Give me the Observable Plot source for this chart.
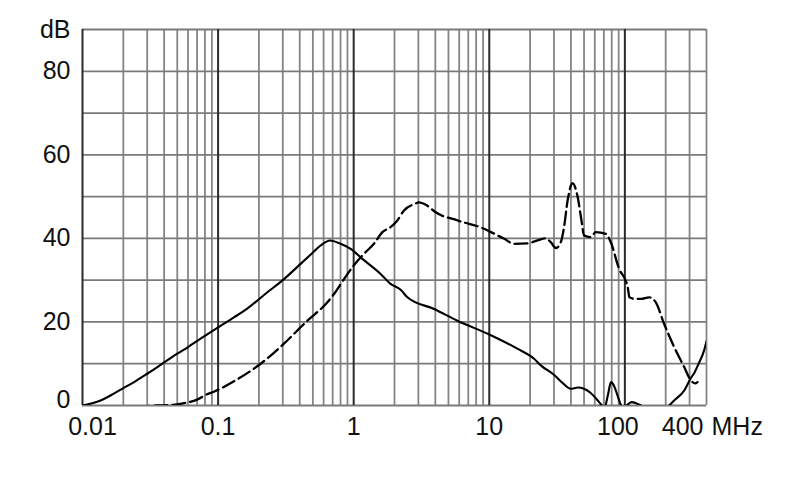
<!DOCTYPE html>
<html>
<head>
<meta charset="utf-8">
<script src="https://cdn.jsdelivr.net/npm/d3@7"></script>
<script src="https://cdn.jsdelivr.net/npm/@observablehq/plot@0.6"></script>
<style>
  html, body { margin: 0; padding: 0; background: #fff; }
  #chart { width: 790px; height: 499px; }
</style>
</head>
<body>
<div id="chart"></div>
<script>
// Solid curve: frequency (MHz) and level (dB)
const solidFreq = [0.01, 0.0136, 0.0161, 0.0196, 0.024, 0.030, 0.04, 0.05, 0.06, 0.0743, 0.1, 0.131, 0.164, 0.231, 0.3, 0.406, 0.5, 0.57, 0.67, 0.8, 0.95, 1.16, 1.58, 1.87, 2.22, 2.49, 3.92, 5.82, 10, 16.1, 21.4, 24, 30.1, 35, 39.9, 45, 50, 56, 62, 68, 71, 75, 79, 83, 88, 93, 97, 103, 112, 122, 135, 155, 180, 201, 231, 274, 307, 325, 350, 384, 400];
const solidDb   = [0, 1.2, 2.4, 4.0, 5.6, 7.6, 10.3, 12.4, 14.0, 16.0, 18.7, 21.1, 23.2, 27.1, 30.0, 33.9, 36.6, 38.3, 39.5, 38.7, 37.5, 35.1, 31.5, 29.1, 27.7, 25.9, 23.1, 20.3, 17.0, 13.6, 11.2, 9.6, 7.3, 5.3, 4.0, 4.3, 4.0, 3.0, 1.5, 0.0, -0.3, 2.5, 5.6, 4.8, 2.5, 0.3, -0.8, 0, 0.8, 0.5, -0.2, -1.5, -1.8, -0.7, 1.2, 3.6, 6.6, 7.8, 10.0, 13.2, 15.4];

// Dashed curve: frequency (MHz) and level (dB)
const dashFreq = [0.025, 0.0356, 0.0446, 0.055, 0.07, 0.083, 0.093, 0.131, 0.206, 0.258, 0.306, 0.455, 0.64, 0.716, 0.85, 1.0, 1.19, 1.41, 1.63, 1.87, 2.1, 2.35, 2.79, 3.03, 3.5, 4.0, 5.82, 9.17, 10.3, 12.9, 15.2, 19.1, 22.7, 26.1, 28.4, 31, 33.7, 35.6, 37.8, 41.1, 44.8, 47.5, 50.1, 56.1, 61, 72.4, 78.9, 90, 105, 108, 120, 131, 151, 169, 195, 231, 274, 307, 330, 343];
const dashDb   = [-0.3, 0, 0.1, 0.5, 1.4, 2.7, 3.3, 5.8, 10.0, 12.6, 14.8, 20.3, 24.7, 26.7, 30.3, 33.5, 36.3, 38.7, 41.5, 42.7, 44.3, 46.7, 48.2, 48.6, 47.8, 46.3, 44.3, 42.3, 41.5, 39.9, 38.7, 38.8, 39.5, 40.0, 39.1, 37.7, 39.1, 42.7, 49.0, 53.2, 50.0, 45.0, 40.7, 40.3, 41.5, 41.1, 39.0, 33.0, 28.3, 25.9, 25.5, 25.5, 25.9, 24.7, 19.5, 14.0, 9.2, 6.0, 5.3, 5.6];

// Axis ticks and labels
const yTicks = [0, 20, 40, 60, 80, 90];
const yTickLabels = ["0", "20", "40", "60", "80", "dB"];
const xMainTicks = [0.1, 1, 10];
const xMainLabels = ["0.1", "1", "10"];
const xFirstTick = 0.01, xFirstLabel = "0.01";
const xHundredTick = 100, xHundredLabel = "100";
const xLastTick = 400, xLastLabel = "400";
const xUnit = "MHz";

const solid = solidFreq.map((f, i) => ({f, db: solidDb[i]}));
const dashed = dashFreq.map((f, i) => ({f, db: dashDb[i]}));

// grid positions
const decades = [0.01, 0.1, 1, 10, 100];
const minor = [];
for (const d of decades.slice(0, 4)) for (let k = 2; k <= 9; k++) minor.push(+(k * d).toPrecision(3));
minor.push(200, 300, 400);
const hLines = d3.range(0, 91, 10);

const labelFmt = (vals, labels) => (v) => labels[vals.indexOf(v)];
const FS = 25;
const xLab = (vals, labels, opts) => Plot.text(vals, {x: (d) => d, y: () => 0, text: (d) => labels[vals.indexOf(d)], dy: 21, lineAnchor: "middle", fontSize: FS, fill: "#111", ...opts});

const chart = Plot.plot({
  width: 790,
  height: 499,
  marginLeft: 82,
  marginRight: 84,
  marginTop: 29,
  marginBottom: 94,
  x: {type: "log", domain: [0.01, 400], axis: null},
  y: {domain: [0, 90], axis: null},
  style: {fontFamily: "'Liberation Sans', Arial, sans-serif", fontSize: "25px", color: "#111", background: "#fff"},
  marks: [
    Plot.ruleX(minor, {stroke: "#858585", strokeWidth: 1.8}),
    Plot.ruleY(hLines, {stroke: "#7a7a7a", strokeWidth: 1.8}),
    Plot.ruleX(decades, {stroke: "#2a2a2a", strokeWidth: 2}),
    Plot.line(solid, {x: "f", y: "db", stroke: "#000", strokeWidth: 2.1, curve: "monotone-x", clip: true}),
    Plot.line(dashed, {x: "f", y: "db", stroke: "#000", strokeWidth: 2.3, strokeDasharray: "13,5", curve: "monotone-x", clip: true}),
    Plot.axisY(yTicks.slice(1), {tickSize: 0, tickPadding: 12, tickFormat: labelFmt(yTicks, yTickLabels), fontSize: FS, label: null}),
    Plot.axisY([yTicks[0]], {tickSize: 0, tickPadding: 12, tickFormat: labelFmt(yTicks, yTickLabels), fontSize: FS, label: null, dy: -6}),
    xLab(xMainTicks, xMainLabels, {}),
    xLab([xFirstTick], [xFirstLabel], {dx: 10}),
    xLab([xHundredTick], [xHundredLabel], {dx: -7}),
    xLab([xLastTick], [xLastLabel], {textAnchor: "end", dx: -3}),
    xLab([xLastTick], [xUnit], {textAnchor: "start", dx: 5})
  ]
});
document.getElementById("chart").append(chart);
</script>
</body>
</html>
